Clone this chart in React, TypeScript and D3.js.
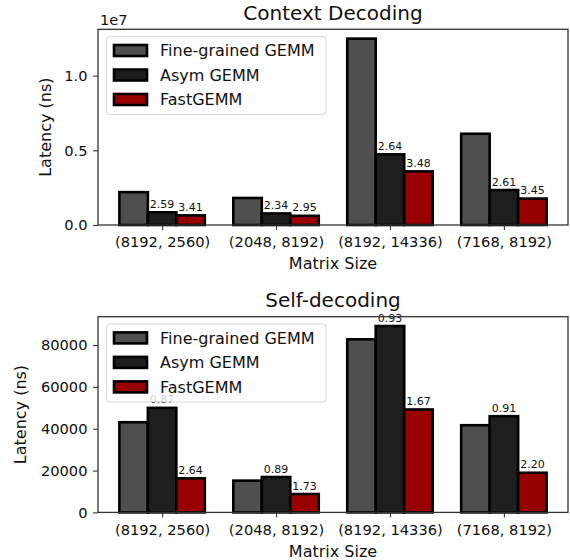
import React, { useEffect, useRef } from "react";
import * as d3 from "d3";

// matrix shapes on the x axis
const categories = ["(8192, 2560)", "(2048, 8192)", "(8192, 14336)", "(7168, 8192)"];
const seriesNames = ["Fine-grained GEMM", "Asym GEMM", "FastGEMM"];

// context decoding latency (ns)
const contextFine = [2.2e6, 1.81e6, 1.248e7, 6.11e6];
const contextAsym = [0.85e6, 0.774e6, 4.73e6, 2.34e6];
const contextFast = [0.645e6, 0.614e6, 3.59e6, 1.77e6];
const contextAsymLabels = ["2.59", "2.34", "2.64", "2.61"];
const contextFastLabels = ["3.41", "2.95", "3.48", "3.45"];
const contextTicks = [0, 0.5e7, 1.0e7];

// self-decoding latency (ns)
const selfFine = [43110, 15190, 82730, 41680];
const selfAsym = [49970, 16910, 89100, 45990];
const selfFast = [16290, 8780, 49200, 18950];
const selfAsymLabels = ["0.87", "0.89", "0.93", "0.91"];
const selfFastLabels = ["2.64", "1.73", "1.67", "2.20"];
const selfTicks = [0, 20000, 40000, 60000, 80000];

const colors = ["#4f4f4f", "#1e1e1e", "#990000"];
const FONT = "DejaVu Sans, sans-serif";

type Panel = {
  title: string;
  top: number;
  series: number[][];
  labels: (string | null)[][];
  ticks: number[];
  tickFormat: (v: number) => string;
  offsetText?: string;
  yLabelX: number;
};

const panels: Panel[] = [
  {
    title: "Context Decoding",
    top: 29.3,
    series: [contextFine, contextAsym, contextFast],
    labels: [[null, null, null, null], contextAsymLabels, contextFastLabels],
    ticks: contextTicks,
    tickFormat: (v) => (v / 1e7).toFixed(1),
    offsetText: "1e7",
    yLabelX: 45,
  },
  {
    title: "Self-decoding",
    top: 316.7,
    series: [selfFine, selfAsym, selfFast],
    labels: [[null, null, null, null], selfAsymLabels, selfFastLabels],
    ticks: selfTicks,
    tickFormat: (v) => String(v),
    yLabelX: 20,
  },
];

export default function App() {
  const svgRef = useRef<SVGSVGElement>(null);

  useEffect(() => {
    const svg = d3.select(svgRef.current);
    svg.selectChildren().remove();

    const left = 98,
      right = 568,
      plotH = 195.7,
      barW = 0.25;

    const x = d3.scaleLinear().domain([-0.5625, 3.5625]).range([left, right]);

    panels.forEach((p) => {
      const bottom = p.top + plotH;
      const maxV = d3.max(p.series.flat()) as number;
      const y = d3
        .scaleLinear()
        .domain([0, maxV * 1.05])
        .range([bottom, p.top]);

      const g = svg.append("g");

      // bars
      p.series.forEach((vals, j) => {
        g.append("g")
          .selectAll("rect")
          .data(vals)
          .enter()
          .append("rect")
          .attr("x", (d, i) => x(i + (j - 1) * barW - barW / 2))
          .attr("width", x(barW) - x(0))
          .attr("y", (d) => y(d))
          .attr("height", (d) => bottom - y(d))
          .attr("fill", colors[j])
          .attr("stroke", "#000")
          .attr("stroke-width", 2.6);
      });

      // speedup labels
      p.labels.forEach((labs, j) => {
        g.append("g")
          .selectAll("text")
          .data(labs.map((l, i) => ({ l, i, v: p.series[j][i] })).filter((d) => d.l))
          .enter()
          .append("text")
          .attr("x", (d) => x(d.i + (j - 1) * barW))
          .attr("y", (d) => y(d.v) - 4.5)
          .attr("text-anchor", "middle")
          .attr("font-family", FONT)
          .attr("font-size", 11)
          .attr("fill", "#111")
          .text((d) => d.l as string);
      });

      // axes
      const yAxis = g
        .append("g")
        .attr("transform", `translate(${left},0)`)
        .call(
          d3
            .axisLeft(y)
            .tickValues(p.ticks)
            .tickFormat((v) => p.tickFormat(v as number))
            .tickSize(5)
            .tickPadding(5.5)
        );
      yAxis.select(".domain").remove();
      yAxis.selectAll("line").attr("stroke", "#333").attr("stroke-width", 1.1);
      yAxis
        .selectAll("text")
        .attr("font-family", FONT)
        .attr("font-size", 14.67)
        .attr("fill", "#111");

      const xAxis = g
        .append("g")
        .attr("transform", `translate(0,${bottom})`)
        .call(
          d3
            .axisBottom(x)
            .tickValues([0, 1, 2, 3])
            .tickFormat((v) => categories[v as number])
            .tickSize(5)
            .tickPadding(7)
        );
      xAxis.select(".domain").remove();
      xAxis.selectAll("line").attr("stroke", "#333").attr("stroke-width", 1.1);
      xAxis
        .selectAll("text")
        .attr("font-family", FONT)
        .attr("font-size", 14.67)
        .attr("fill", "#111");

      // frame drawn over labels
      g.append("rect")
        .attr("x", left)
        .attr("y", p.top)
        .attr("width", right - left)
        .attr("height", plotH)
        .attr("fill", "none")
        .attr("stroke", "#333")
        .attr("stroke-width", 1.3);

      // titles
      g.append("text")
        .attr("x", (left + right) / 2)
        .attr("y", p.top - 9.8)
        .attr("text-anchor", "middle")
        .attr("font-family", FONT)
        .attr("font-size", 20)
        .attr("fill", "#111")
        .text(p.title);

      g.append("text")
        .attr("x", (left + right) / 2)
        .attr("y", bottom + 38.5)
        .attr("dy", "0.35em")
        .attr("text-anchor", "middle")
        .attr("font-family", FONT)
        .attr("font-size", 16)
        .attr("fill", "#111")
        .text("Matrix Size");

      g.append("text")
        .attr("transform", `translate(${p.yLabelX},${p.top + plotH / 2}) rotate(-90)`)
        .attr("dy", "0.35em")
        .attr("text-anchor", "middle")
        .attr("font-family", FONT)
        .attr("font-size", 16)
        .attr("fill", "#111")
        .text("Latency (ns)");

      if (p.offsetText) {
        g.append("text")
          .attr("x", left + 2)
          .attr("y", p.top - 4.5)
          .attr("font-family", FONT)
          .attr("font-size", 14.67)
          .attr("fill", "#111")
          .text(p.offsetText);
      }

      // legend
      const lx = 106.7,
        ly = p.top + 7.2;
      const leg = g.append("g");
      leg
        .append("rect")
        .attr("x", lx)
        .attr("y", ly)
        .attr("width", 219.3)
        .attr("height", 78)
        .attr("rx", 3)
        .attr("fill", "#fff")
        .attr("fill-opacity", 0.8)
        .attr("stroke", "#ccc")
        .attr("stroke-opacity", 0.8);
      const rows = leg
        .selectAll("g.row")
        .data(seriesNames)
        .enter()
        .append("g")
        .attr("class", "row")
        .attr("transform", (d, i) => `translate(0,${ly + 14 + i * 24.5})`);
      rows
        .append("rect")
        .attr("x", 114)
        .attr("y", -5.5)
        .attr("width", 33)
        .attr("height", 11)
        .attr("fill", (d, i) => colors[i])
        .attr("stroke", "#000")
        .attr("stroke-width", 2.6);
      rows
        .append("text")
        .attr("x", 160)
        .attr("dy", "0.35em")
        .attr("font-family", FONT)
        .attr("font-size", 16)
        .attr("fill", "#111")
        .text((d) => d);
    });
  }, []);

  return (
    <svg
      ref={svgRef}
      width={570}
      height={560}
      style={{ position: "absolute", left: 0, top: 0, background: "#fff" }}
    ></svg>
  );
}
